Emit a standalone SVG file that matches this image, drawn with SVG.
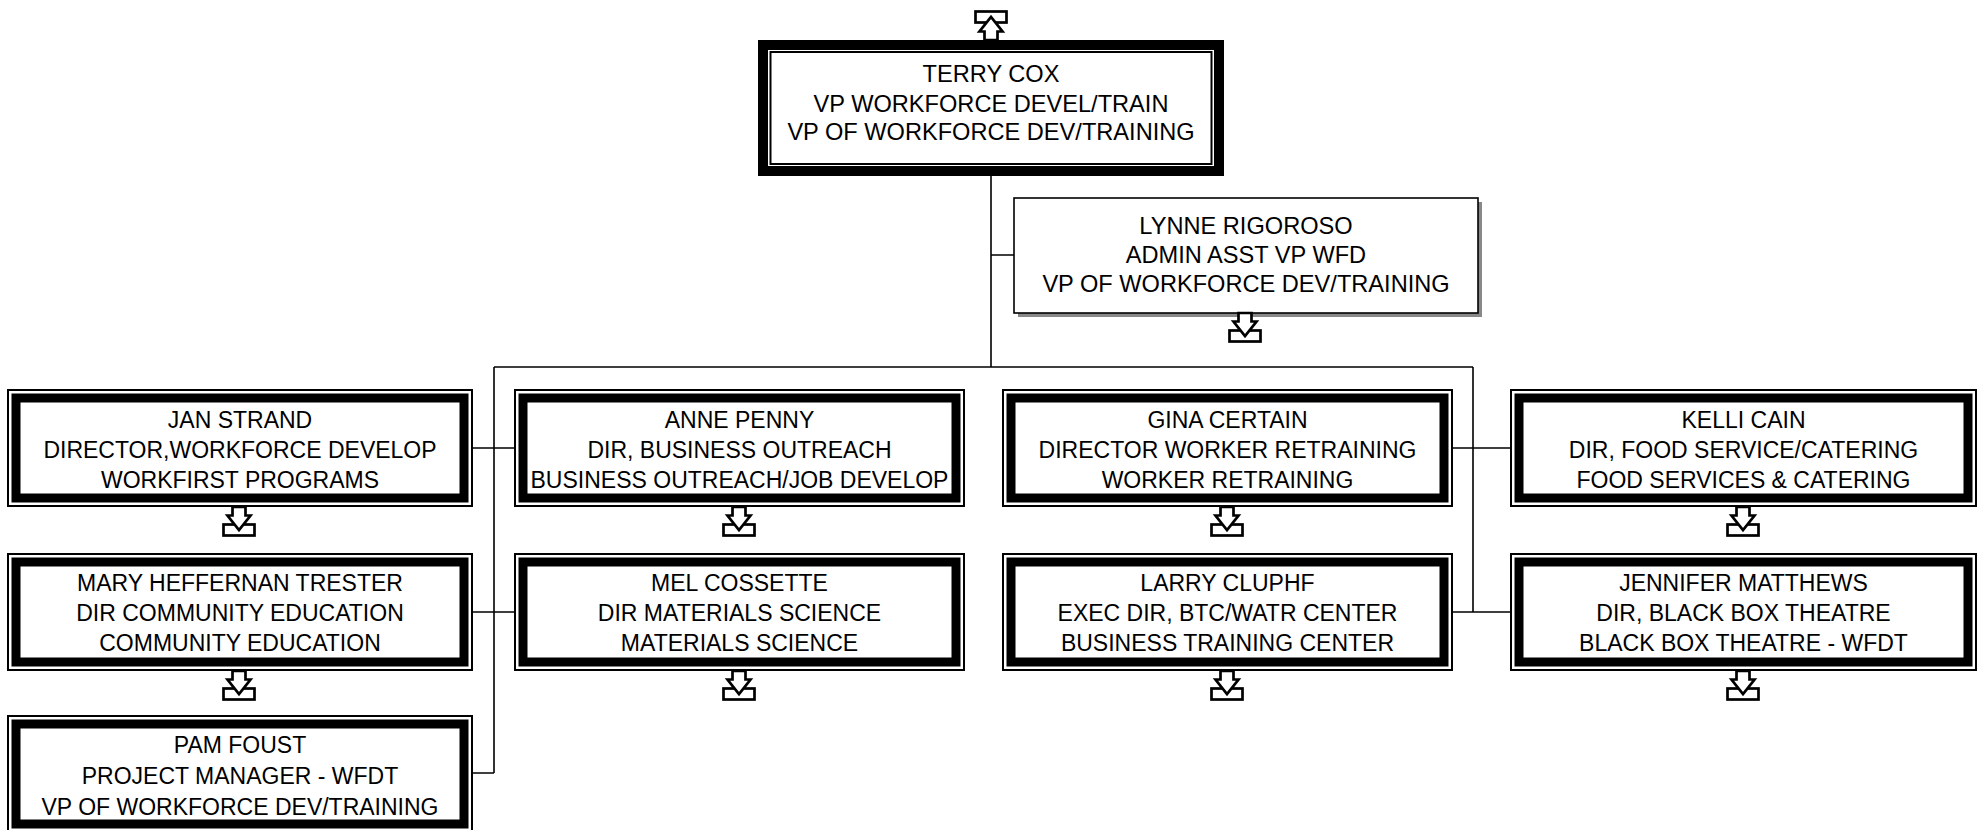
<svg xmlns="http://www.w3.org/2000/svg" xmlns:xlink="http://www.w3.org/1999/xlink" width="1983" height="830" viewBox="0 0 1983 830">
<style>
text{font-family:"Liberation Sans",Arial,sans-serif;font-size:23px;fill:#000;text-anchor:middle}
.big text{font-size:23.6px}
.ol{fill:#fff;stroke:#000;stroke-width:2}
.tk{fill:none;stroke:#000;stroke-width:9}
.ln{fill:none;stroke:#000;stroke-width:1.6}
.ic{fill:#fff;stroke:#000;stroke-width:2.7}
</style>
<defs>
<g id="dn"><rect class="ic" x="-15.5" y="17.5" width="31" height="11"/><path class="ic" d="M-6.5,0 V8.5 H-11.5 L0,23 L11.5,8.5 H6.5 V0 Z"/></g>
</defs>
<rect width="1983" height="830" fill="#fff"/>
<g id="connectors">
<path class="ln" d="M991,176 V367 M991,255 H1014 M494,367 H1473 M494,367 V773 M1473,367 V612 M473,448 H514 M473,612 H514 M473,773 H494 M1453,448 H1510 M1453,612 H1510"/>
</g>
<g id="terry-cox" class="big">
<rect x="763" y="45" width="456" height="126" fill="#fff" stroke="#000" stroke-width="10"/>
<rect x="770.5" y="52" width="441" height="112" fill="none" stroke="#000" stroke-width="2"/>
<use xlink:href="#dn" transform="translate(991,40) scale(1,-1)"/>
<text x="991" y="82">TERRY COX</text>
<text x="991" y="112">VP WORKFORCE DEVEL/TRAIN</text>
<text x="991" y="140">VP OF WORKFORCE DEV/TRAINING</text>
</g>
<g id="lynne-rigoroso" class="big">
<rect x="1018" y="202" width="464" height="115" fill="#888"/>
<rect x="1014" y="198" width="464" height="115" fill="#fff" stroke="#000" stroke-width="1.6"/>
<use xlink:href="#dn" transform="translate(1245,313)"/>
<text x="1246" y="233.5">LYNNE RIGOROSO</text>
<text x="1246" y="262.5">ADMIN ASST VP WFD</text>
<text x="1246" y="291.5">VP OF WORKFORCE DEV/TRAINING</text>
</g>
<g id="jan-strand">
<rect class="ol" x="8" y="390" width="464" height="116"/><rect class="tk" x="16" y="398" width="448" height="100"/>
<use xlink:href="#dn" transform="translate(239,507)"/>
<text x="240" y="427.5">JAN STRAND</text>
<text x="240" y="457.5">DIRECTOR,WORKFORCE DEVELOP</text>
<text x="240" y="488">WORKFIRST PROGRAMS</text>
</g>
<g id="mary-heffernan-trester">
<rect class="ol" x="8" y="554" width="464" height="116"/><rect class="tk" x="16" y="562" width="448" height="100"/>
<use xlink:href="#dn" transform="translate(239,671)"/>
<text x="240" y="590.5">MARY HEFFERNAN TRESTER</text>
<text x="240" y="621">DIR COMMUNITY EDUCATION</text>
<text x="240" y="651">COMMUNITY EDUCATION</text>
</g>
<g id="pam-foust">
<rect class="ol" x="8" y="716" width="464" height="116"/><rect class="tk" x="16" y="724" width="448" height="100"/>
<text x="240" y="753">PAM FOUST</text>
<text x="240" y="783.5">PROJECT MANAGER - WFDT</text>
<text x="240" y="815">VP OF WORKFORCE DEV/TRAINING</text>
</g>
<g id="anne-penny">
<rect class="ol" x="515" y="390" width="449" height="116"/><rect class="tk" x="523" y="398" width="433" height="100"/>
<use xlink:href="#dn" transform="translate(739,507)"/>
<text x="739.5" y="427.5">ANNE PENNY</text>
<text x="739.5" y="457.5">DIR, BUSINESS OUTREACH</text>
<text x="739.5" y="488">BUSINESS OUTREACH/JOB DEVELOP</text>
</g>
<g id="mel-cossette">
<rect class="ol" x="515" y="554" width="449" height="116"/><rect class="tk" x="523" y="562" width="433" height="100"/>
<use xlink:href="#dn" transform="translate(739,671)"/>
<text x="739.5" y="590.5">MEL COSSETTE</text>
<text x="739.5" y="621">DIR MATERIALS SCIENCE</text>
<text x="739.5" y="651">MATERIALS SCIENCE</text>
</g>
<g id="gina-certain">
<rect class="ol" x="1003" y="390" width="449" height="116"/><rect class="tk" x="1011" y="398" width="433" height="100"/>
<use xlink:href="#dn" transform="translate(1227,507)"/>
<text x="1227.5" y="427.5">GINA CERTAIN</text>
<text x="1227.5" y="457.5">DIRECTOR WORKER RETRAINING</text>
<text x="1227.5" y="488">WORKER RETRAINING</text>
</g>
<g id="larry-cluphf">
<rect class="ol" x="1003" y="554" width="449" height="116"/><rect class="tk" x="1011" y="562" width="433" height="100"/>
<use xlink:href="#dn" transform="translate(1227,671)"/>
<text x="1227.5" y="590.5">LARRY CLUPHF</text>
<text x="1227.5" y="621">EXEC DIR, BTC/WATR CENTER</text>
<text x="1227.5" y="651">BUSINESS TRAINING CENTER</text>
</g>
<g id="kelli-cain">
<rect class="ol" x="1511" y="390" width="465" height="116"/><rect class="tk" x="1519" y="398" width="449" height="100"/>
<use xlink:href="#dn" transform="translate(1743,507)"/>
<text x="1743.5" y="427.5">KELLI CAIN</text>
<text x="1743.5" y="457.5">DIR, FOOD SERVICE/CATERING</text>
<text x="1743.5" y="488">FOOD SERVICES &amp; CATERING</text>
</g>
<g id="jennifer-matthews">
<rect class="ol" x="1511" y="554" width="465" height="116"/><rect class="tk" x="1519" y="562" width="449" height="100"/>
<use xlink:href="#dn" transform="translate(1743,671)"/>
<text x="1743.5" y="590.5">JENNIFER MATTHEWS</text>
<text x="1743.5" y="621">DIR, BLACK BOX THEATRE</text>
<text x="1743.5" y="651">BLACK BOX THEATRE - WFDT</text>
</g>
</svg>
